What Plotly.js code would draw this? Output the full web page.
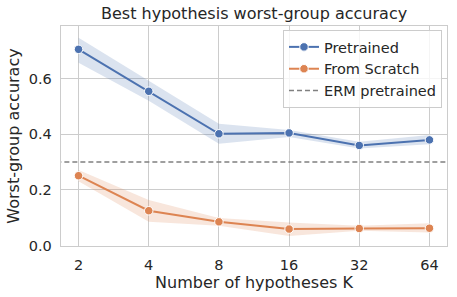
<!DOCTYPE html>
<html><head><meta charset="utf-8">
<script src="https://cdn.plot.ly/plotly-3.0.1.min.js"></script>
<style>html,body{margin:0;padding:0;background:#fff}#c{width:457px;height:297px}</style>
</head><body><div id="c"></div>
<script>
const K = [2, 4, 8, 16, 32, 64];
const kLabels = ["2", "4", "8", "16", "32", "64"];
const pretrained = [0.706, 0.555, 0.402, 0.405, 0.360, 0.380];
const pretrainedLo = [0.658, 0.521, 0.366, 0.390, 0.349, 0.364];
const pretrainedHi = [0.748, 0.592, 0.438, 0.416, 0.373, 0.398];
const scratch = [0.251, 0.125, 0.085, 0.059, 0.061, 0.062];
const scratchLo = [0.231, 0.085, 0.071, 0.034, 0.053, 0.047];
const scratchHi = [0.272, 0.164, 0.099, 0.083, 0.071, 0.080];
const ermPretrained = 0.30;

const blue = '#4c72b0', orange = '#dd8452';
const txt = '#262626';
const font = 'DejaVu Sans, sans-serif';

function band(lo, hi, color) {
  return [
    {x: K, y: hi, mode: 'lines', line: {width: 0}, showlegend: false, hoverinfo: 'skip'},
    {x: K, y: lo, mode: 'lines', line: {width: 0}, fill: 'tonexty', fillcolor: color, showlegend: false, hoverinfo: 'skip'}
  ];
}
const mk = (c) => ({size: 8.5, color: c, line: {color: '#ffffff', width: 1}});
const data = [
  ...band(pretrainedLo, pretrainedHi, 'rgba(76,114,176,0.2)'),
  ...band(scratchLo, scratchHi, 'rgba(221,132,82,0.2)'),
  {x: K, y: pretrained, mode: 'lines+markers', name: 'Pretrained', line: {color: blue, width: 2}, marker: mk(blue)},
  {x: K, y: scratch, mode: 'lines+markers', name: 'From Scratch', line: {color: orange, width: 2}, marker: mk(orange)},
  {x: [1, 128], y: [ermPretrained, ermPretrained], mode: 'lines', name: 'ERM pretrained', line: {color: '#808080', width: 1.5, dash: '5px,3px'}}
];
const lx0 = Math.log10(2), step = Math.log10(2);
const layout = {
  width: 457, height: 297,
  margin: {l: 61, r: 10, t: 26, b: 51},
  paper_bgcolor: '#fff', plot_bgcolor: '#fff',
  font: {family: font, color: txt, size: 14.5},
  title: {text: 'Best hypothesis worst-group accuracy', font: {size: 16, color: txt}, x: 0.556, xanchor: 'center', y: 0.955, yanchor: 'middle'},
  xaxis: {
    type: 'log', range: [lx0 - 0.25 * step, lx0 + 5.25 * step],
    tickvals: K, ticktext: kLabels, ticks: '', ticklabelstandoff: 5,
    showgrid: true, gridcolor: '#cccccc', gridwidth: 1,
    showline: true, mirror: true, linecolor: '#cccccc', linewidth: 1.25,
    zeroline: false, tickfont: {size: 14.5},
    title: {text: 'Number of hypotheses K', font: {size: 16}, standoff: 3}
  },
  yaxis: {
    range: [-0.002, 0.79], tickvals: [0, 0.2, 0.4, 0.6], tickformat: '.1f', ticks: '', ticklabelstandoff: 5,
    showgrid: true, gridcolor: '#cccccc', gridwidth: 1,
    showline: true, mirror: true, linecolor: '#cccccc', linewidth: 1.25,
    zeroline: false, tickfont: {size: 14.5},
    title: {text: 'Worst-group accuracy', font: {size: 16}, standoff: 5}
  },
  legend: {
    x: 0.987, xanchor: 'right', y: 0.982, yanchor: 'top', traceorder: 'normal',
    bgcolor: 'rgba(255,255,255,0.8)', bordercolor: '#cccccc', borderwidth: 1,
    font: {size: 14.5}, tracegroupgap: 0, itemwidth: 30
  },
  showlegend: true
};
Plotly.newPlot('c', data, layout, {displayModeBar: false, staticPlot: true});
</script>
</body></html>
